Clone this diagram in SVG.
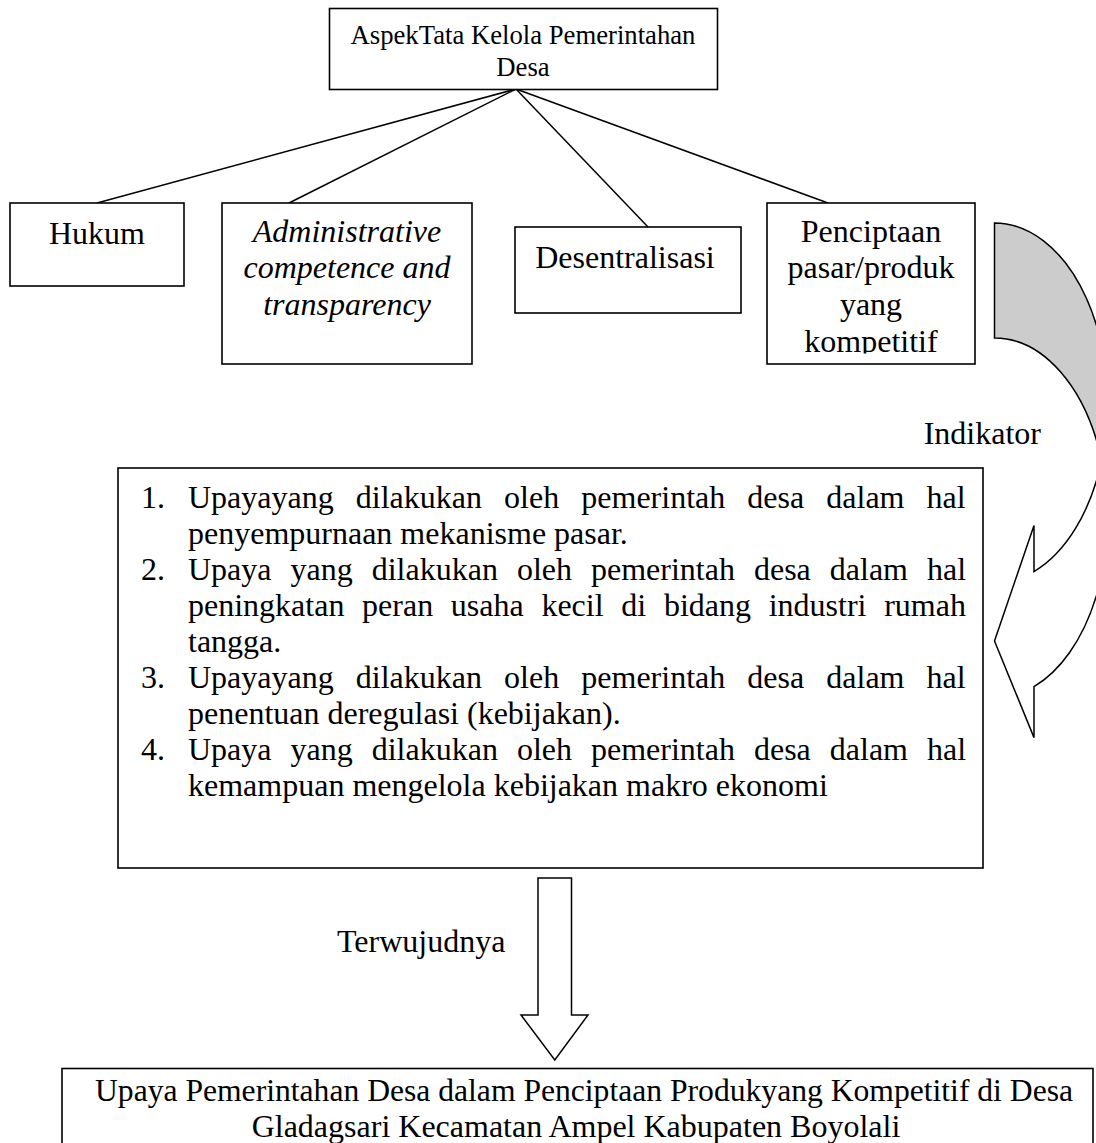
<svg xmlns="http://www.w3.org/2000/svg" width="1096" height="1143" viewBox="0 0 1096 1143">
<style>
.box{fill:#fff;stroke:#000;stroke-width:1.6}
.ln{stroke:#000;stroke-width:1.5;fill:none}
.t{font-family:"Liberation Serif","Times New Roman",serif;font-size:32px;fill:#000}
.s{font-size:26.7px}
.c{text-anchor:middle}
.i{font-style:italic}
.arw{stroke:#000;stroke-width:1.5;fill:#fff;stroke-linejoin:miter}
</style>
<defs>
<clipPath id="clipP"><rect x="767" y="203" width="208" height="150.5"/></clipPath>
</defs>
<rect width="1096" height="1143" fill="#fff"/>
<g id="connectors">
<line class="ln" x1="516" y1="89" x2="97" y2="203"/>
<line class="ln" x1="516" y1="89" x2="289" y2="203"/>
<line class="ln" x1="516" y1="89" x2="648" y2="227"/>
<line class="ln" x1="516" y1="89" x2="828" y2="203"/>
<g id="curved-arrow">
<path d="M994.5,223 A113,180 0 0 1 1101.6,460.5 A113,180 0 0 0 994.5,338 Z" fill="#cccccc" stroke="#000" stroke-width="1.5"/>
<path class="arw" d="M1101.6,460.5 A113,180 0 0 1 1034,571.6 L1034,525.5 L994.5,641 L1034,737.6 L1034,686.6 A113,180 0 0 0 1101.6,460.5 Z"/>
</g>
<path id="down-arrow" class="arw" d="M538,878 L571.5,878 L571.5,1015 L588,1015 L554.8,1060 L521,1015 L538,1015 Z"/>
<text class="t" x="1041" y="444" text-anchor="end">Indikator</text>
<text class="t" x="337" y="952">Terwujudnya</text>
</g>
<g id="node-aspek">
<rect class="box" x="329.5" y="8.5" width="388" height="81"/>
<text class="t s c" x="523" y="44">AspekTata Kelola Pemerintahan</text>
<text class="t s c" x="523" y="76">Desa</text>
</g>
<g id="node-hukum">
<rect class="box" x="10" y="203" width="174" height="83"/>
<text class="t c" x="97" y="244">Hukum</text>
</g>
<g id="node-admin">
<rect class="box" x="222" y="203" width="250" height="161"/>
<text class="t c i" x="347" y="241.5">Administrative</text>
<text class="t c i" x="347" y="278.3">competence and</text>
<text class="t c i" x="347" y="315">transparency</text>
</g>
<g id="node-desentralisasi">
<rect class="box" x="515" y="227" width="226" height="86"/>
<text class="t c" x="625" y="268">Desentralisasi</text>
</g>
<g id="node-penciptaan">
<rect class="box" x="767" y="203" width="208" height="161"/>
<g clip-path="url(#clipP)">
<text class="t c" x="871" y="241.5">Penciptaan</text>
<text class="t c" x="871" y="278.3">pasar/produk</text>
<text class="t c" x="871" y="315">yang</text>
<text class="t c" x="871" y="351.7">kompetitif</text>
</g>
</g>
<g id="node-indikator-list">
<rect class="box" x="118" y="468" width="865" height="400"/>
<text class="t" x="141" y="508">1.</text>
<text class="t" x="188" y="508" word-spacing="14.1">Upayayang dilakukan oleh pemerintah desa dalam hal</text>
<text class="t" x="188" y="544">penyempurnaan mekanisme pasar.</text>
<text class="t" x="141" y="580">2.</text>
<text class="t" x="188" y="580" word-spacing="11">Upaya yang dilakukan oleh pemerintah desa dalam hal</text>
<text class="t" x="188" y="616" word-spacing="9.7">peningkatan peran usaha kecil di bidang industri rumah</text>
<text class="t" x="188" y="652">tangga.</text>
<text class="t" x="141" y="688">3.</text>
<text class="t" x="188" y="688" word-spacing="14.1">Upayayang dilakukan oleh pemerintah desa dalam hal</text>
<text class="t" x="188" y="724">penentuan deregulasi (kebijakan).</text>
<text class="t" x="141" y="760">4.</text>
<text class="t" x="188" y="760" word-spacing="11">Upaya yang dilakukan oleh pemerintah desa dalam hal</text>
<text class="t" x="188" y="796">kemampuan mengelola kebijakan makro ekonomi</text>
</g>
<g id="node-hasil">
<rect class="box" x="62" y="1068.5" width="1031" height="100"/>
<text class="t c" x="584" y="1101" textLength="978" lengthAdjust="spacingAndGlyphs">Upaya Pemerintahan Desa dalam Penciptaan Produkyang Kompetitif di Desa</text>
<text class="t c" x="576" y="1137">Gladagsari Kecamatan Ampel Kabupaten Boyolali</text>
</g>
</svg>
